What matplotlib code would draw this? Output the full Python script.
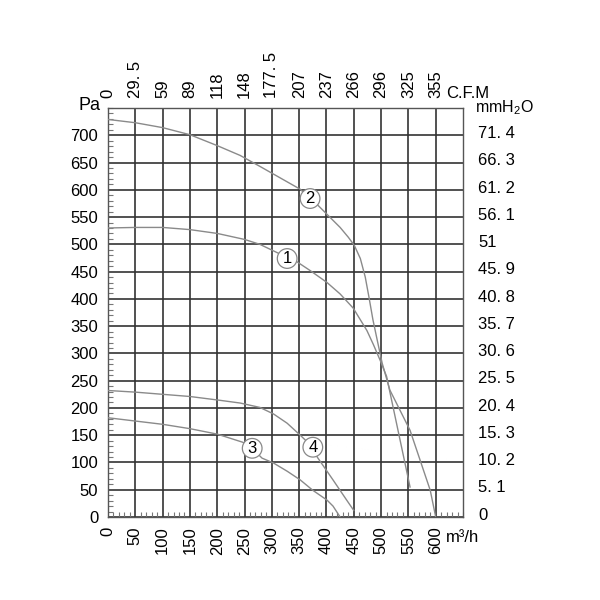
import matplotlib
matplotlib.use("Agg")
import matplotlib.pyplot as plt

plt.rcParams['font.family'] = ['Liberation Sans', 'DejaVu Sans']
plt.rcParams['mathtext.fontset'] = 'custom'
plt.rcParams['mathtext.rm'] = 'Liberation Sans'

# ---- data (flow m3/h, static pressure Pa) ----
q1 = [0, 50, 100, 150, 200, 250, 278, 328, 346, 370, 401, 425, 449, 474, 486, 498, 510, 553]
p1 = [530, 531, 531, 527, 520, 509, 500, 476, 468, 452, 430, 409, 383, 342, 316, 288, 258, 55]

q2 = [0, 50, 100, 150, 200, 242, 278, 352, 370, 385, 407, 425, 440, 451, 462, 471, 478,
      485, 493, 502, 516, 553, 590, 600]
p2 = [729, 723, 714, 701, 681, 663, 643, 601, 584, 571, 549, 531, 513, 498, 474, 440, 402,
      362, 324, 282, 233, 159, 49, 0]

q3 = [0, 50, 100, 150, 200, 247, 264, 282, 303, 328, 352, 375, 401, 412, 425]
p3 = [182, 176, 170, 162, 152, 137, 126, 108, 99, 84, 68, 49, 31, 20, 0]

q4 = [0, 50, 100, 150, 205, 242, 278, 303, 328, 352, 375, 383, 412, 437, 450]
p4 = [232, 229, 225, 221, 214, 209, 201, 189, 172, 150, 128, 110, 68, 31, 12]

curve_labels = ["1", "2", "3", "4"]
label_q = [328, 370, 264, 375]
label_p = [474, 584, 126, 128]

x_ticks = [0, 50, 100, 150, 200, 250, 300, 350, 400, 450, 500, 550, 600]
cfm_labels = ["0", "29. 5", "59", "89", "118", "148", "177. 5", "207", "237",
              "266", "296", "325", "355"]
y_ticks = [0, 50, 100, 150, 200, 250, 300, 350, 400, 450, 500, 550, 600, 650, 700]
mmh2o_labels = ["0", "5. 1", "10. 2", "15. 3", "20. 4", "25. 5", "30. 6", "35. 7",
                "40. 8", "45. 9", "51", "56. 1", "61. 2", "66. 3", "71. 4"]

fig = plt.figure(figsize=(6, 6), dpi=100)
ax = fig.add_axes([0.18, 0.1383, 0.5917, 0.6817])
ax.set_xlim(0, 650)
ax.set_ylim(0, 750)

grid_c = '#333333'
for x in x_ticks:
    ax.axvline(x, color=grid_c, lw=1.2, zorder=1)
for y in y_ticks:
    ax.axhline(y, color=grid_c, lw=1.2, zorder=1)

curve_c = '#8a8a8a'
for q, p in [(q1, p1), (q2, p2), (q3, p3), (q4, p4)]:
    ax.plot(q, p, color=curve_c, lw=1.0, zorder=3)

for t, xq, yp in zip(curve_labels, label_q, label_p):
    ax.text(xq, yp, t, ha='center', va='center', fontsize=12, zorder=5,
            bbox=dict(boxstyle='circle,pad=0.14', fc='white', ec='#888888', lw=0.9))

for s in ax.spines.values():
    s.set_color('#555555')
    s.set_linewidth(1.0)

ax.set_xticks(x_ticks)
ax.set_xticklabels([str(v) for v in x_ticks], rotation=90, fontsize=12)
ax.set_yticks(y_ticks)
ax.set_yticklabels([str(v) for v in y_ticks], fontsize=12)
ax.set_xticks(range(0, 651, 10), minor=True)
ax.set_yticks(range(0, 751, 10), minor=True)
ax.tick_params(which='major', length=0, pad=7)
ax.tick_params(which='minor', direction='in', length=3.5, width=0.8, color='#777777',
               top=True, right=True)

axt = ax.twiny()
axt.set_xlim(0, 650)
axt.set_xticks(x_ticks)
axt.set_xticklabels(cfm_labels, rotation=90, fontsize=12)
axt.tick_params(which='major', length=0, pad=7)
axt.set_xticks([], minor=True)

axr = ax.twinx()
axr.set_ylim(0, 750)
axr.set_yticks([v + 6 for v in y_ticks])
axr.set_yticklabels(mmh2o_labels, fontsize=12)
axr.tick_params(which='major', length=0, pad=11)
axr.set_yticks([], minor=True)
for a in (axt, axr):
    for s in a.spines.values():
        s.set_visible(False)

fig.text(90 / 600, 1 - 105 / 600, "Pa", fontsize=13, ha='center', va='center')
fig.text(446 / 600, 1 - 93 / 600, "C.F.M", fontsize=12, ha='left', va='center')
fig.text(475 / 600, 1 - 108 / 600, r"mmH$_\mathregular{2}$O", fontsize=11.5, ha='left', va='center')
fig.text(446 / 600, 1 - 538 / 600, "m³/h", fontsize=12, ha='left', va='center')

fig.savefig("out.png", dpi=100, facecolor='white')
